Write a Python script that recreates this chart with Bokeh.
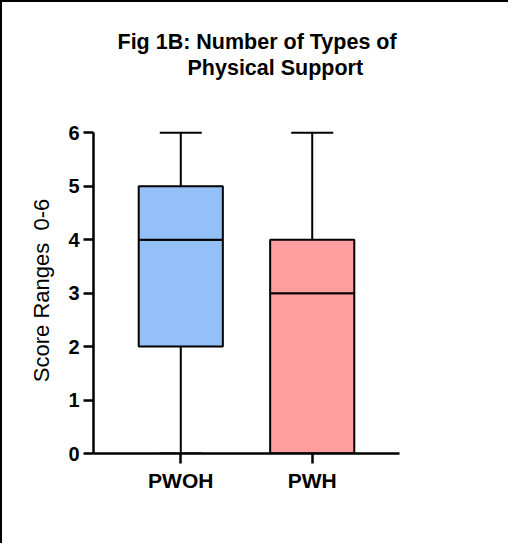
from bokeh.plotting import figure
from bokeh.layouts import column
from bokeh.models import (ColumnDataSource, FactorRange, Range1d, Whisker, TeeHead,
                          Label, FixedTicker)
from bokeh.embed import file_html
from bokeh.resources import INLINE

# ---- data ----
categories = ["PWOH", "PWH"]
mins = [0, 0]
q1 = [2, 0]
medians = [4, 3]
q3 = [5, 4]
maxs = [6, 6]
colors = ["#94C0F8", "#FF9E9E"]
y_ticks = [0, 1, 2, 3, 4, 5, 6]
title_line1 = "Fig 1B: Number of Types of"
title_line2 = "Physical Support"
y_label = "Score Ranges\u00a0 0-6"

FONT = "Liberation Sans"

# ---- title strip ----
W = 506
TH = 105
pt = figure(width=W, height=TH, output_backend="svg", toolbar_location=None,
            x_range=Range1d(0, W), y_range=Range1d(0, TH),
            x_axis_type=None, y_axis_type=None,
            min_border=0, min_border_left=0, min_border_right=0,
            min_border_top=0, min_border_bottom=0)
try:
    pt.frame_align = False
except Exception:
    pass
pt.grid.visible = False
pt.outline_line_color = None
for txt, xs, ys in ((title_line1, 115, 66), (title_line2, 185, 40)):
    pt.add_layout(Label(x=xs, y=ys, x_units="screen", y_units="screen", text=txt,
                        text_font=FONT, text_font_size="21.5px",
                        text_font_style="bold", text_color="black",
                        text_align="left", text_baseline="alphabetic"))

# ---- main chart ----
src = ColumnDataSource(dict(cat=categories, mn=mins, q1=q1, med=medians,
                            q3=q3, mx=maxs, color=colors))

p = figure(width=W, height=436, output_backend="svg", toolbar_location=None,
           x_range=FactorRange(factors=categories, range_padding=0.164,
                               range_padding_units="absolute"),
           y_range=Range1d(0, 6.1),
           min_border_left=91, min_border_right=109,
           min_border_top=20, min_border_bottom=90)
try:
    p.frame_align = False
except Exception:
    pass

upper = Whisker(base="cat", lower="q3", upper="mx", source=src,
                line_color="black", line_width=2,
                upper_head=TeeHead(size=42, line_width=2, line_color="black"),
                lower_head=None)
lower = Whisker(base="cat", lower="mn", upper="q1", source=src,
                line_color="black", line_width=2,
                lower_head=TeeHead(size=42, line_width=2, line_color="black"),
                upper_head=None)
p.add_layout(upper)
p.add_layout(lower)

p.vbar(x="cat", bottom="q1", top="med", width=0.64, source=src,
       fill_color="color", line_color="black", line_width=2)
p.vbar(x="cat", bottom="med", top="q3", width=0.64, source=src,
       fill_color="color", line_color="black", line_width=2)

p.grid.visible = False
p.outline_line_color = None
p.background_fill_color = "white"

for ax in (p.xaxis[0], p.yaxis[0]):
    ax.axis_line_width = 2.5
    ax.axis_line_color = "black"
    ax.major_tick_line_width = 2.5
    ax.major_tick_line_color = "black"
    ax.major_tick_out = 10
    ax.major_tick_in = 0
    ax.minor_tick_line_color = None
    ax.major_label_text_font = FONT
    ax.major_label_text_font_style = "bold"
    ax.major_label_text_color = "black"

p.yaxis.ticker = FixedTicker(ticks=y_ticks)
p.yaxis.bounds = (0, 6)
p.yaxis.major_label_text_font_size = "20px"
p.yaxis.major_label_standoff = 4
p.yaxis.axis_label = y_label
p.yaxis.axis_label_text_font = FONT
p.yaxis.axis_label_text_font_size = "22px"
p.yaxis.axis_label_text_font_style = "normal"
p.yaxis.axis_label_text_color = "black"
p.yaxis.axis_label_standoff = 11

p.xaxis.major_label_text_font_size = "21px"
p.xaxis.major_label_standoff = 5

layout = column(pt, p, spacing=0)
layout.styles = {"border-left": "2px solid black", "border-top": "2px solid black"}

open("out.html", "w").write(file_html(layout, INLINE))
